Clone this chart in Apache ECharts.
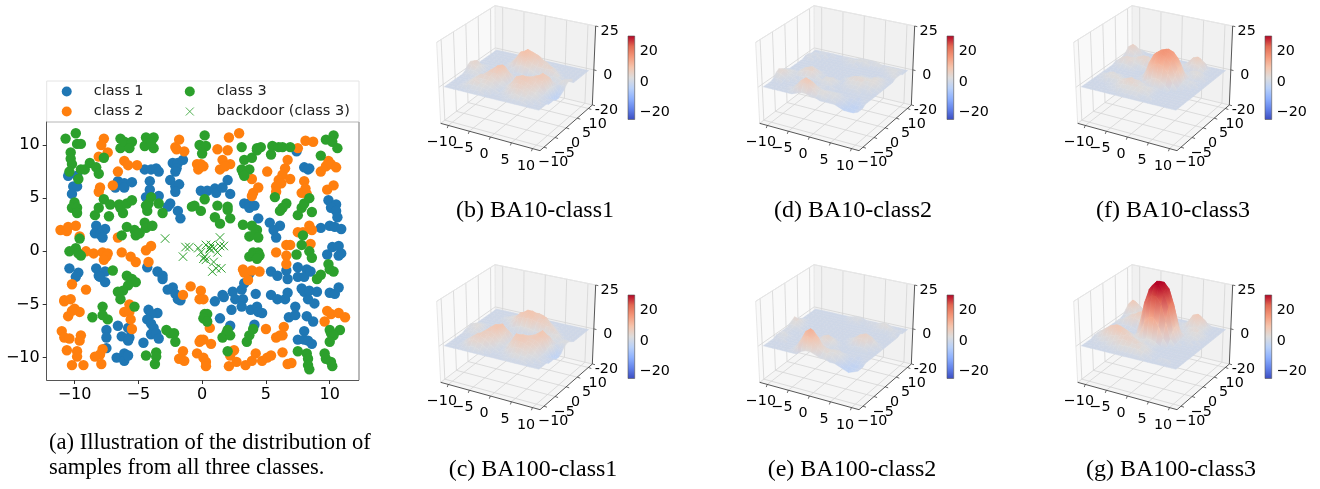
<!DOCTYPE html>
<html><head><meta charset="utf-8">
<script src="https://cdn.jsdelivr.net/npm/echarts@6/dist/echarts.min.js"></script>
<style>html,body{margin:0;padding:0;background:#fff}#c{width:1320px;height:489px}</style></head>
<body><div id="c"></div>
<script>
const class1=[[-10.5,7.1],[-9.8,7.1],[-10.1,6.1],[-9.8,6.1],[-10.2,5.4],[-8.3,2.4],[-8.4,1.7],[-7.6,2.1],[-8,1.6],[-7.8,1.3],[-6.8,6],[-6.6,6.6],[-6.1,6.4],[-6.1,6],[-5.5,6.5],[-4.5,7.7],[-4,7.7],[-3.6,7.8],[-3.4,7.5],[-4.1,6.6],[-4.1,5.8],[-4.4,5.1],[-3.4,5.2],[-2.3,8.3],[-1.9,8.3],[-1.5,8.6],[-2,7.8],[-2.1,7.5],[-2.5,6.7],[-2.1,6.1],[-1.8,6.3],[-2.1,5.6],[-2.5,4.5],[-2.7,4.2],[-1.9,3.8],[-1.7,3.1],[-0.1,5.7],[0.4,5.7],[1,5.9],[1.1,5.5],[1.6,6],[2,6.7],[2.2,5.4],[3.3,4.5],[3.7,4.5],[3.7,4.1],[4.1,4.3],[4.4,3.1],[5.3,2.7],[6.1,2.4],[5.6,2],[5.8,1.3],[7.4,9.4],[8,7.9],[8.4,7.8],[8.3,7.7],[9.9,4.8],[10.5,4.4],[10.1,4.1],[10.5,3.8],[10.6,3.2],[9.3,2.2],[10,2.4],[10.4,2.3],[10.9,2.1],[10.2,0.4],[10.7,0.5],[9.8,-0.3],[10.7,-0.4],[10.9,-0.2],[-10.4,-1.6],[-9.7,-2],[-9.9,-2.4],[-8.3,-1.6],[-7.6,-1.9],[-8.1,-2.3],[-7.6,-2.9],[-8,-2.4],[-4.3,-1.5],[-3.5,-1.9],[-3.1,-2.3],[-3.1,-2.6],[-2.3,-3.4],[-2.7,-3.6],[-2.1,-4],[-1.9,-4.5],[-1.7,-4.6],[1,-4.7],[1.6,-4.1],[1.7,-4.3],[2.4,-3.8],[2.6,-4.5],[3.1,-3.6],[3.3,-3],[3.7,-2.1],[3.2,-4.5],[3.1,-5.2],[2.3,-5.5],[3.8,-5.5],[4.3,-5.2],[4.4,-5.7],[4.7,-5.8],[4.2,-4],[5.4,-1.9],[5.9,-2.3],[6.6,-1.8],[6.7,-2.6],[5.4,-4.1],[5.9,-4.5],[6.5,-4.5],[6.7,-3.9],[7.5,-1.5],[7.5,-2.4],[8.2,-1.7],[8,-2.4],[8.5,-1.9],[7.8,-3.5],[8,-3.8],[8.3,-4.5],[8.8,-4.9],[8.4,-3.7],[9,-3.8],[7.3,-5.2],[6.8,-6.2],[7.3,-6],[8.2,-6.1],[8.7,-6.6],[10,-3.9],[10.4,-4],[10.7,-3.4],[-4.2,-5.5],[-3.5,-5.8],[-4,-5.9],[-4.3,-6.4],[-4,-6.8],[-3.8,-7.2],[-4,-7.8],[-3.6,-7.7],[-3.4,-8.2],[-4.6,-8.6],[-6.6,-7],[-5.8,-7.2],[-6.3,-8],[-5.7,-8.1],[-5.8,-8.4],[-7.5,-7.4],[-7.5,-8.1],[-7.5,-9.1],[-6.7,-10],[-6.1,-9.6],[-5.9,-9.8],[-6.1,-10.3],[-5.8,-9.8],[1.4,-6.3],[2.2,-7],[4.1,-6.9],[8,-7.5],[7.5,-8.3],[8,-8.3],[8.3,-8.4],[8.6,-8.7]];
const class2=[[-7.7,10.6],[-7.9,10],[-7.4,9.3],[-8.1,8.9],[-6.1,8.5],[-5.8,8.1],[-6.6,7.5],[-5.1,8.1],[-7,6.2],[-8,6],[-8.1,5.6],[-11.1,2],[-10.6,1.9],[-10.5,2.3],[-9.9,2.4],[-9.6,1.4],[-6.6,1.3],[-1.8,10.5],[-2.1,9.8],[-2,9.6],[-1.4,9.4],[2.1,10.7],[2.9,11.1],[1.2,9.6],[2,9.5],[1.6,8.6],[2.2,8.2],[1.4,7.7],[1.8,8],[-0.4,8.2],[-0.1,8.2],[-0.3,7.7],[0.1,8],[5.1,7.5],[3.9,6.8],[4.4,6],[4,5.5],[3.9,5.2],[6.7,8.6],[6.5,7.8],[6.3,7.2],[6,6.7],[6.2,6.4],[5.8,6.1],[5.8,5.6],[6.9,6.8],[7.5,9.7],[8.1,10.4],[8.7,10.3],[8,6.6],[8.1,5.9],[7.8,5.5],[8.2,5.4],[9.3,7.5],[9.7,8],[9.9,8.5],[10.1,8.2],[10.5,7.9],[9.8,5.8],[10.3,6.2],[8.4,2.4],[8.6,2],[7.5,1.8],[7.9,1.8],[-9.1,0],[-8.5,-0.2],[-7.8,-0.1],[-7.4,-0.2],[-7.5,-0.5],[-7.7,-0.8],[-6.3,-0.1],[-5.6,-0.5],[-5.2,-1],[-4.4,0.1],[-4,0.5],[-4.2,-1],[6.6,0.6],[6.9,0.6],[5.8,-0.1],[6.6,-0.4],[6.6,-1.2],[8.5,0.7],[3.2,-1.7],[3.3,-2],[3.9,-1.8],[4.5,-1.9],[3.6,-2.7],[-10.2,-3.1],[-9.1,-3.6],[-10.8,-4.6],[-10.3,-4.5],[-10.8,-4.7],[-10,-5.4],[-9.6,-5.7],[-10.5,-6.1],[-10.2,-5.6],[-5.7,-5],[-6.1,-5.7],[-5.7,-5.7],[-5.6,-6.4],[-5.5,-7.3],[-0.9,-3.3],[-1.5,-4.1],[-0.1,-3.7],[-0.2,-4.5],[0.1,-4.5],[0.6,-7.2],[-0.1,-8.3],[0.1,-8.3],[-0.2,-8.5],[0.7,-8.7],[-11,-7.5],[-10.8,-8.1],[-10.4,-8.2],[-9.5,-7.9],[-9.6,-8.4],[-10.6,-9.3],[-9.8,-9.4],[-9.8,-9.9],[-10.2,-10.7],[-9.3,-10.7],[-7.8,-9.2],[-8,-9.7],[-8.4,-9.9],[-7.9,-10.6],[-1.5,-9.4],[-1.8,-10.1],[-1.4,-10.3],[-0.4,-9.6],[0.1,-10],[0.3,-10.4],[0.3,-10.8],[2.5,-9.3],[2.2,-9.8],[2.7,-10.4],[2.1,-10.8],[3.4,-10.7],[3.9,-10.3],[4.2,-9.6],[4.7,-10.3],[5.1,-10],[5.4,-9.8],[6.3,-9.5],[6.7,-10.6],[7,-10.5],[5,-7.3],[5.8,-8.1],[6.1,-7.9],[6.4,-7.1],[6.3,-7.9],[9.6,-6.6],[9.8,-5.6],[10.1,-5.9],[10.7,-5.8],[11.2,-6.2]];
const class3=[[-10.7,10.6],[-9.9,11.1],[-9.8,10.1],[-9.5,10.1],[-10.3,9.3],[-10.3,8.7],[-10.2,8.2],[-10.4,7.5],[-9.5,7.7],[-9.2,7.7],[-8.8,8.3],[-8.3,7.9],[-8.1,7.3],[-9.7,6.8],[-10,4.6],[-10.2,4.1],[-9.8,4.1],[-9.8,3.6],[-8.4,3.4],[-8.1,4.1],[-7.7,4.9],[-7.2,4.4],[-7.3,3.3],[-6.5,4.4],[-6.4,4.1],[-6.2,3.6],[-5.9,4.5],[-5.5,4.8],[-5.9,2.3],[-6.3,1.5],[-5.3,2],[-5.2,1.5],[-4.9,1.7],[-4.5,2.7],[-4.4,2.2],[-3.9,2.4],[-9.6,1.2],[-7.7,8.8],[-6.4,10.6],[-6.4,9.7],[-6.1,10.3],[-5.5,10.3],[-5.7,9.7],[-4.4,10.7],[-3.8,10.7],[-4.5,9.9],[-3.8,9.7],[-4,10.2],[-4,5.1],[-4.2,4.5],[-4.3,3.8],[-4.4,4.3],[-3.4,4.5],[-3.1,3.6],[-0.8,4.2],[-0.6,4.3],[-0.1,3.8],[0.2,4.9],[1.2,4.3],[2,4.2],[2,3.9],[2.2,3.1],[1,3.2],[1.4,2.6],[0.2,10.9],[-0.2,10],[0.3,9.9],[0,9.2],[3.1,9.8],[3.3,8.6],[3.9,8.8],[4.3,9.7],[4.6,9.8],[4.3,9.5],[5.4,9.1],[5.5,9.9],[6,9.8],[6.3,9.8],[6.9,9.8],[3.1,7.7],[3.2,7.4],[3.7,7.7],[3.3,7.1],[5.7,5.1],[6.6,4.5],[6.3,4.1],[6.1,3.8],[7.5,3.4],[7.8,4.1],[8,4.5],[8.4,5],[8.6,3.7],[3.2,2.5],[3.9,2.4],[4.3,2],[3.7,1.4],[4.1,1.6],[4.4,1.3],[7.9,1.5],[9.3,9],[9.7,10.5],[10.3,10.9],[10.2,10.3],[10.6,9.7],[-10.4,0],[-9.9,0.3],[-9.7,-0.2],[-9.5,-0.4],[-7,-1.8],[-5.9,-2.3],[-5.5,-2.6],[-5.2,-2.9],[-5.8,-3.2],[-6.2,-3.7],[-6.6,-3.8],[-6.4,-4.5],[-5.3,-5.2],[-7.8,-5.2],[-8.6,-6.2],[-7.8,-6],[-7.4,-6.4],[-2.8,-7.4],[-2.5,-7.7],[-2.2,-7.7],[-2.1,-8.5],[-4.4,-9.8],[-3.6,-9.5],[-3.6,-9.9],[-3.7,-10.6],[0.2,-5.9],[0.4,-5.9],[0.1,-6.3],[0.4,-6.6],[1.6,-8.1],[1.9,-7.7],[2.2,-7.9],[2,-7.4],[2,-9.4],[3.5,-8.5],[3.7,-7.9],[4,-7.3],[7.5,-9.4],[8.2,-9.6],[8.3,-10.1],[8.3,-10.7],[8.4,-11.1],[9,-2.6],[9.3,-2.2],[9.6,-9.6],[9.7,-10.1],[10.1,-10.4],[10.2,-10.8],[10,-7.4],[10.1,-7.7],[10.8,-7.4],[10.3,-7.9],[10,-8.5],[9.9,-1.2],[10,-1.7],[10.3,-1.9],[3.7,-0.5],[4,-0.1],[4.4,-0.1],[4.5,-0.4],[4.3,-0.7],[7.4,-0.3],[8.4,0],[8.6,-0.6],[7.8,0.6]];
const backdoor=[[-2.9,1.2],[-1.5,-0.5],[-1.3,0.4],[-1,0.4],[-0.3,0.3],[-0.1,-0.1],[0.1,-0.7],[0.3,-0.8],[0.7,0.6],[0.6,0.3],[0.9,0.3],[1.4,0.5],[1.7,0.5],[1.2,-0.1],[0.9,-1],[0.8,-1.9],[1.1,-1.6],[1.5,-1.6],[0.2,-0.5],[1.4,1.3],[0.3,0.6],[0.6,0.2]];
const scatterTicks=[-10,-5,0,5,10];

const ba10class1=[
[0,0,0,0,0,0,0,0,0,0,0,0,0,0,0,0,0,0,0,0,0],
[0,0,0,0,0,1,1,1,0,0,0,0,0,1,1,1,1,0,0,0,0],
[0,0,0,1,2,2,2,2,1,0,0,0,1,2,3,2,2,1,0,0,0],
[0,0,0,1,3,4,3,3,2,1,0,1,3,4,5,4,3,2,1,0,0],
[0,0,0,1,3,4,4,4,3,1,0,2,4,6,6,5,4,3,1,0,-1],
[0,0,0,1,3,5,5,5,4,2,1,3,6,7,7,6,5,3,1,0,-1],
[0,0,0,1,2,4,6,6,6,3,1,3,7,8,8,7,6,4,1,-1,-1],
[0,1,1,1,2,3,6,8,8,5,1,2,6,7,7,7,7,6,2,-2,-2],
[1,2,2,1,1,2,5,8,9,6,1,1,3,5,6,7,8,7,2,-3,-2],
[3,4,3,1,0,1,3,6,7,4,1,0,1,3,5,6,8,7,2,-3,-1],
[4,5,3,1,0,0,1,3,3,2,0,0,0,1,3,4,6,5,1,-2,0],
[3,4,2,0,0,0,0,1,1,0,0,0,0,0,1,2,3,2,1,1,2],
[1,1,1,0,0,0,0,0,0,1,1,0,0,0,0,1,1,1,1,3,3],
[0,0,0,0,0,0,0,1,3,4,4,3,2,1,1,1,2,2,1,2,3],
[0,0,0,0,0,0,1,4,7,8,7,5,4,4,4,4,3,2,0,0,0],
[0,0,0,0,0,0,2,5,9,10,9,7,6,5,5,4,2,0,0,0,0],
[0,0,0,0,0,0,1,4,8,10,9,8,6,5,3,2,0,0,0,0,0],
[0,0,0,0,0,0,0,2,5,7,7,6,4,3,1,0,0,0,0,0,0],
[0,0,0,0,0,0,0,1,3,3,3,2,1,0,0,0,0,0,0,0,0],
[0,0,0,0,0,0,0,0,0,0,0,0,0,0,0,0,0,0,0,0,0],
[0,0,0,0,0,0,0,0,0,0,0,0,0,0,0,0,0,0,0,0,0]];
const ba100class1=[
[0,0,0,0,0,0,0,0,0,0,0,0,0,0,0,0,0,0,0,0,0],
[0,0,0,0,1,2,2,1,0,0,0,0,0,1,1,1,1,0,0,0,0],
[0,0,0,1,3,5,4,3,1,0,0,0,1,2,3,2,2,1,0,0,0],
[0,0,0,2,4,6,6,5,3,1,0,1,3,4,5,4,3,2,1,0,0],
[0,0,0,2,4,6,7,6,5,2,0,2,5,7,7,6,5,3,1,0,-1],
[0,0,0,1,3,5,7,7,6,3,1,3,7,8,8,7,6,4,1,0,-1],
[0,0,0,1,3,5,7,8,8,4,1,3,8,8,8,7,7,5,1,-1,-1],
[0,1,1,1,2,4,7,9,9,5,1,2,6,7,7,8,8,7,2,-2,-2],
[1,1,2,1,1,3,6,8,9,6,1,1,3,5,6,7,9,8,3,-3,-2],
[1,2,3,1,0,1,3,6,6,4,1,0,1,3,5,7,9,7,2,-3,-1],
[2,3,3,1,0,0,1,3,2,1,0,0,0,1,3,4,6,5,1,-1,1],
[1,2,2,0,0,0,0,1,1,0,0,0,0,0,1,2,3,2,1,2,2],
[0,1,1,0,0,0,0,0,0,0,1,0,0,0,1,1,2,2,1,2,2],
[0,0,0,0,0,0,0,1,2,3,3,3,2,2,2,2,3,3,1,1,1],
[0,0,0,0,0,0,1,3,6,7,7,7,6,6,5,5,4,2,0,0,0],
[0,0,0,0,0,1,2,5,8,9,9,8,7,7,6,4,2,0,0,0,0],
[0,0,0,0,1,2,3,5,7,9,9,8,8,7,4,2,0,0,0,0,0],
[0,0,0,0,1,2,3,4,5,7,7,7,6,4,2,0,0,0,0,0,0],
[0,0,0,0,0,1,2,2,3,3,4,3,2,1,0,0,0,0,0,0,0],
[0,0,0,0,0,0,0,1,1,1,1,0,0,0,0,0,0,0,0,0,0],
[0,0,0,0,0,0,0,0,0,0,0,0,0,0,0,0,0,0,0,0,0]];
const ba10class2=[
[0,0,0,0,0,0,0,1,2,2,1,1,0,0,0,0,-1,-2,-2,-2,-1],
[0,0,0,0,0,0,2,4,6,6,4,2,2,1,1,0,-1,-3,-3,-2,-1],
[0,0,0,0,0,1,3,6,8,7,4,3,3,2,2,1,0,-2,-3,-2,-1],
[0,0,0,0,0,0,2,4,6,5,3,2,2,2,2,1,0,-1,-2,-1,0],
[1,1,0,0,0,0,1,2,3,2,1,1,1,1,1,0,0,0,-1,0,0],
[3,3,1,0,0,0,0,0,1,1,1,0,0,0,0,0,0,0,0,0,0],
[4,4,2,1,0,1,1,0,0,1,1,1,0,0,0,0,0,0,0,0,0],
[3,3,2,1,1,2,2,1,1,2,2,1,0,0,1,1,1,0,0,0,0],
[2,2,2,2,3,4,4,2,1,3,3,2,0,1,2,2,2,1,1,0,0],
[1,1,1,2,4,5,4,2,0,1,2,1,0,2,3,3,3,2,2,1,0],
[0,0,0,1,3,4,3,1,0,0,0,0,1,3,4,4,3,3,3,2,0],
[0,0,0,0,1,2,1,0,0,0,0,0,1,2,3,3,3,3,3,2,0],
[0,0,0,0,0,0,0,0,0,0,0,0,0,1,2,2,2,3,3,1,0],
[0,0,0,0,0,0,0,0,0,0,0,0,0,0,1,1,1,2,2,1,0],
[0,0,0,0,0,0,0,0,0,0,0,0,0,0,0,0,0,1,1,0,0],
[0,0,0,0,0,0,0,0,0,0,0,0,0,0,0,0,0,0,0,1,1],
[1,1,0,0,0,0,0,0,0,0,0,0,0,0,0,0,0,0,1,2,1],
[1,1,1,0,0,0,0,0,0,1,1,0,0,0,0,0,0,1,2,2,1],
[0,1,1,1,0,0,0,0,1,2,2,2,2,1,1,1,1,2,2,2,0],
[0,0,1,1,1,0,0,1,1,1,2,2,2,2,2,1,1,1,1,1,0],
[0,0,0,0,0,0,0,0,0,0,1,1,1,1,0,0,0,0,0,0,0]];
const ba100class2=[
[0,0,0,0,0,0,0,0,2,3,3,2,1,1,0,0,-1,-2,-3,-2,-1],
[0,0,0,0,0,0,1,4,8,10,8,5,3,3,2,0,-1,-3,-3,-2,-1],
[0,0,0,0,0,0,2,6,11,13,10,6,4,3,3,2,0,-2,-3,-2,-1],
[0,0,0,0,0,0,1,5,9,11,8,4,3,3,3,2,0,-1,-2,-1,0],
[0,1,1,0,0,0,0,2,4,5,4,1,1,2,2,1,0,0,-1,0,0],
[1,1,1,0,0,0,0,0,1,2,2,1,0,0,0,0,0,0,0,0,0],
[1,2,1,0,0,0,0,0,1,3,4,2,1,0,0,0,0,0,0,0,0],
[1,1,0,0,0,0,0,0,2,4,5,3,1,0,0,0,0,0,0,0,0],
[1,1,0,0,0,0,0,0,1,2,3,2,0,0,0,1,1,1,0,0,0],
[1,1,0,0,0,0,0,0,0,0,1,0,0,0,2,4,5,3,1,0,0],
[2,2,1,0,0,0,0,0,0,0,0,0,0,1,3,5,6,5,3,1,0],
[3,3,1,0,0,0,0,0,0,0,0,0,0,1,2,4,5,4,2,0,0],
[4,3,1,0,0,0,0,0,0,0,0,0,0,0,1,2,2,1,0,0,0],
[2,2,0,0,0,0,0,0,0,0,0,0,0,0,0,0,0,0,0,0,0],
[1,1,0,0,0,0,0,0,0,0,0,0,0,0,0,0,0,0,0,0,0],
[0,0,0,0,0,0,0,0,0,0,0,0,0,0,0,0,0,0,0,0,0],
[0,0,0,0,0,0,0,0,0,0,0,0,0,0,0,0,0,0,0,1,0],
[0,0,0,0,0,0,0,0,0,0,0,0,0,0,0,1,1,1,1,1,1],
[0,0,0,0,0,0,0,0,0,1,1,0,0,1,1,2,3,2,1,1,0],
[0,0,0,0,0,0,0,0,1,2,2,1,1,1,1,2,2,1,0,0,0],
[0,0,0,0,0,0,0,0,0,1,1,0,0,0,0,0,0,0,0,0,0]];
const ba10class3=[
[0,0,0,0,0,0,0,0,0,0,0,0,0,0,0,0,0,0,0,0,0],
[0,0,0,0,0,0,0,0,1,1,1,1,0,0,0,0,0,0,0,0,0],
[0,0,0,0,0,0,1,2,2,2,2,2,1,1,0,0,0,0,0,0,0],
[0,0,0,0,0,1,2,3,3,3,3,3,2,1,0,0,0,0,0,0,0],
[0,0,0,0,1,1,3,4,5,4,3,3,3,1,0,0,0,0,0,0,0],
[0,0,1,2,2,2,3,4,5,4,3,2,2,1,0,0,0,0,0,0,0],
[0,1,2,3,3,2,2,3,3,3,2,1,1,1,0,0,0,0,0,0,0],
[0,1,2,3,2,1,1,1,1,1,2,4,5,4,2,0,0,0,0,0,0],
[0,0,1,1,1,0,0,0,0,3,8,11,12,11,8,3,0,0,0,0,0],
[0,0,0,0,0,0,0,0,1,6,12,15,16,15,12,6,1,0,0,0,0],
[0,0,0,0,0,0,0,0,2,9,14,16,17,16,14,9,2,1,0,0,0],
[0,0,0,0,0,0,0,0,2,9,14,16,17,16,14,9,2,2,1,0,0],
[0,1,2,2,1,0,0,0,1,6,12,15,16,15,12,6,1,1,1,0,0],
[1,3,4,4,3,2,2,1,0,3,8,11,12,11,8,3,1,1,0,0,0],
[0,3,4,4,4,4,5,3,1,1,2,4,5,4,2,1,2,3,1,0,0],
[0,1,2,3,4,5,5,3,1,0,0,1,1,1,1,2,3,3,1,0,0],
[1,1,1,1,2,3,3,1,0,0,0,0,0,0,0,1,1,1,0,0,0],
[2,4,2,1,0,0,1,1,1,1,1,1,1,1,3,4,3,1,0,0,0],
[4,6,4,1,0,0,0,0,0,1,2,1,1,3,6,7,5,1,0,0,0],
[2,4,2,0,0,0,0,0,0,0,1,0,0,2,4,5,3,0,0,0,0],
[0,1,1,0,0,0,0,0,0,0,0,0,0,1,2,1,0,0,0,0,0]];
const ba100class3=[
[0,0,0,0,0,0,0,0,0,0,0,0,0,0,0,0,0,0,0,0,0],
[0,0,0,0,0,0,0,1,1,1,1,1,1,0,0,0,0,0,0,0,0],
[0,0,0,0,1,1,2,3,3,3,3,3,2,1,0,0,1,1,0,0,0],
[0,0,1,1,2,3,4,5,5,4,4,3,3,1,0,0,0,0,0,0,0],
[0,1,2,3,4,5,5,6,6,5,4,3,2,1,0,0,0,0,0,0,0],
[1,2,4,6,7,8,7,6,5,4,3,2,1,0,0,0,0,0,0,0,0],
[1,3,5,7,8,8,7,5,3,2,2,1,1,0,0,0,0,0,0,0,0],
[1,2,4,6,7,6,5,3,2,2,3,3,2,0,0,0,0,0,0,0,0],
[0,1,2,3,4,4,3,2,4,10,14,14,10,4,0,0,0,0,0,0,0],
[0,0,0,1,1,1,1,3,12,21,25,25,21,12,3,0,0,0,0,0,0],
[0,0,0,0,0,0,0,7,19,27,30,30,27,19,7,1,0,0,0,0,0],
[0,0,0,0,0,0,0,8,21,28,31,31,28,21,8,1,1,1,0,0,0],
[0,0,1,1,1,0,0,7,19,27,30,30,27,19,7,1,1,1,1,0,0],
[0,2,3,4,5,4,3,3,12,21,25,25,21,12,3,1,2,2,1,0,0],
[0,1,3,5,6,7,7,6,4,10,14,14,10,4,1,2,3,3,2,0,0],
[0,1,2,4,6,7,7,6,4,3,3,3,2,1,1,3,4,3,1,0,0],
[1,2,3,3,4,5,5,4,3,2,2,1,1,1,2,3,3,2,0,0,0],
[3,5,3,2,2,2,2,1,1,1,1,1,1,2,5,6,4,2,0,0,0],
[5,8,5,2,1,1,0,0,0,0,0,1,1,3,7,8,6,2,0,0,0],
[3,6,4,1,0,0,0,0,0,0,0,0,0,2,5,6,4,1,0,0,0],
[0,2,1,0,0,0,0,0,0,0,0,0,0,1,2,2,1,0,0,0,0]];

const panelTables=[ba10class1,ba100class1,ba10class2,ba100class2,ba10class3,ba100class3];
const panelOrigins=[[420,0],[420,259],[739,0],[739,259],[1057,0],[1057,259]];
const captions=[["(b) BA10-class1",535,211],["(c) BA100-class1",533,470],["(d) BA10-class2",853,211],["(e) BA100-class2",852,470],["(f) BA10-class3",1173,211],["(g) BA100-class3",1171,470]];
const axisTicks3d=[-10,-5,0,5,10];
const zTicks3d=[-20,0,25];
const colorbarTicks=[-20,0,20];
const colorRange=[-24.6,30];
const coolwarm=['#3b4cc0','#6282ea','#8db0fe','#b8d0f9','#dddcdc','#f5c4ac','#f4987a','#e26952','#b40426'];

const FONT='"DejaVu Sans"';
const LIM=11.8, SURF=11;
const C={A:[62,370],B:[360,452],C:[517,315],D:[226,245],E:[50,127],F:[364,195],G:[527,78],H:[225,17]};
function lerp(a,b,t){return [a[0]+(b[0]-a[0])*t,a[1]+(b[1]-a[1])*t];}
function project(x,y,z){
  const u=(x+LIM)/(2*LIM),v=(y+LIM)/(2*LIM),w=(z+20)/45;
  const bot=lerp(lerp(C.A,C.B,u),lerp(C.D,C.C,u),v);
  const top=lerp(lerp(C.E,C.F,u),lerp(C.H,C.G,u),v);
  return lerp(bot,top,w);
}
function hex(s){return [1,3,5].map(i=>parseInt(s.substr(i,2),16));}
function cmap(z){
  let t=(z-colorRange[0])/(colorRange[1]-colorRange[0]);t=Math.max(0,Math.min(1,t));
  const p=t*(coolwarm.length-1),i=Math.min(coolwarm.length-2,Math.floor(p)),f=p-i;
  const a=hex(coolwarm[i]),b=hex(coolwarm[i+1]);
  return 'rgb('+a.map((c,k)=>Math.round(c+(b[k]-c)*f)).join(',')+')';
}
const minus=v=>String(v).replace('-','\u2212');

const grids=[{left:46.7,top:122,width:312,height:258}];
const xAxes=[{type:'value',gridIndex:0,min:-12.18,max:12.27,splitLine:{show:false},
  axisLine:{onZero:false,lineStyle:{color:'#555',width:1}},
  axisTick:{length:4,lineStyle:{color:'#333'},customValues:scatterTicks},
  axisLabel:{customValues:scatterTicks,formatter:minus,fontFamily:FONT,fontSize:16,color:'#000',margin:7}}];
const yAxes=[{type:'value',gridIndex:0,min:-12.1,max:12.16,splitLine:{show:false},
  axisLine:{show:true,onZero:false,lineStyle:{color:'#555',width:1}},
  axisTick:{show:true,length:4,lineStyle:{color:'#333'},customValues:scatterTicks},
  axisLabel:{customValues:scatterTicks,formatter:minus,fontFamily:FONT,fontSize:16,color:'#000',margin:7}}];
const dot=(name,data,color)=>({name,type:'scatter',data,symbolSize:10.4,xAxisIndex:0,yAxisIndex:0,silent:true,itemStyle:{color,opacity:1}});
const series=[
 dot('class 1',class1,'#1f77b4'),
 dot('class 2',class2,'#ff7f0e'),
 dot('class 3',class3,'#2ca02c'),
 {name:'backdoor (class 3)',type:'scatter',data:backdoor,symbol:'path://M0,0L10,10M10,0L0,10',symbolSize:8.5,silent:true,
  itemStyle:{color:'none',borderColor:'#2ca02c',borderWidth:1,opacity:1}}
];

panelOrigins.forEach((o,idx)=>{
  const g=grids.length;
  grids.push({left:o[0],top:o[1],width:240,height:190});
  xAxes.push({type:'value',gridIndex:g,min:0,max:720,show:false});
  yAxes.push({type:'value',gridIndex:g,min:0,max:570,inverse:true,show:false});
  const table=panelTables[idx];
  series.push({type:'custom',coordinateSystem:'cartesian2d',xAxisIndex:g,yAxisIndex:g,silent:true,clip:false,z:2,data:[[0,0]],
    renderItem:(p,api)=>{
      const pt=a=>api.coord(a), P=(x,y,z)=>pt(project(x,y,z));
      const ch=[];
      const poly=(pts,fill)=>ch.push({type:'polygon',shape:{points:pts.map(pt)},style:{fill,stroke:'none'}});
      const ln=(a,b,col,w)=>ch.push({type:'line',shape:{x1:a[0],y1:a[1],x2:b[0],y2:b[1]},style:{stroke:col,lineWidth:w}});
      poly([C.A,C.D,C.H,C.E],'#f9f9f9');
      poly([C.D,C.C,C.G,C.H],'#f1f1f1');
      poly([C.A,C.B,C.C,C.D],'#f5f5f5');
      const gc='#d4d4d4';
      axisTicks3d.forEach(t=>{
        ln(P(t,-LIM,-20),P(t,LIM,-20),gc,0.8);ln(P(t,LIM,-20),P(t,LIM,25),gc,0.8);
        ln(P(-LIM,t,-20),P(LIM,t,-20),gc,0.8);ln(P(-LIM,t,-20),P(-LIM,t,25),gc,0.8);
      });
      zTicks3d.forEach(z=>{
        ln(P(-LIM,-LIM,z),P(-LIM,LIM,z),gc,0.8);ln(P(-LIM,LIM,z),P(LIM,LIM,z),gc,0.8);
      });
      ln(pt(C.A),pt(C.E),'#e2e2e2',0.8);ln(pt(C.D),pt(C.H),'#e2e2e2',0.8);ln(pt(C.E),pt(C.H),'#e8e8e8',0.8);ln(pt(C.H),pt(C.G),'#e8e8e8',0.8);
      ln(pt(C.A),pt(C.B),'#444',0.9);ln(pt(C.B),pt(C.C),'#444',0.9);ln(pt(C.C),pt(C.G),'#444',0.9);
      const tick=(a,off)=>ln(pt(a),pt([a[0]+off[0],a[1]+off[1]]),'#444',0.8);
      const label=(txt,a,off)=>{const q=pt([a[0]+off[0],a[1]+off[1]]);
        ch.push({type:'text',x:q[0],y:q[1],style:{text:txt,fontFamily:FONT,fontSize:14.3,fill:'#000',align:'center',verticalAlign:'middle'}});};
      axisTicks3d.forEach(t=>{
        const a=project(t,-LIM,-20),b=project(LIM,t,-20);
        tick(a,[-3,8]);tick(b,[9,3]);
        label(minus(t),a,[-19,52]);
        label(minus(t),b,[28,46]);
      });
      zTicks3d.forEach(z=>{const a=project(LIM,LIM,z);tick(a,[8,2]);label(String(z),a,[42,15]);});
      return {type:'group',children:ch};
    }});
  const cells=[];
  for(let r=table.length-2;r>=0;r--) for(let c=0;c<table[0].length-1;c++) cells.push([c,r]);
  const n=table[0].length-1, gx=i=>-SURF+2*SURF*i/n, gy=i=>-SURF+2*SURF*i/(table.length-1);
  series.push({type:'custom',coordinateSystem:'cartesian2d',xAxisIndex:g,yAxisIndex:g,silent:true,clip:false,z:3,data:cells,
    renderItem:(p,api)=>{
      const c=api.value(0),r=api.value(1);
      const zs=[table[r][c],table[r][c+1],table[r+1][c+1],table[r+1][c]];
      const xy=[[c,r],[c+1,r],[c+1,r+1],[c,r+1]];
      const pts=xy.map((q,i)=>api.coord(project(gx(q[0]),gy(q[1]),zs[i])));
      let lo=0,hi=0;zs.forEach((z,i)=>{if(z<zs[lo])lo=i;if(z>zs[hi])hi=i;});
      const fill=zs[lo]===zs[hi]?cmap(zs[lo]):new echarts.graphic.LinearGradient(pts[lo][0],pts[lo][1],pts[hi][0],pts[hi][1],
        [{offset:0,color:cmap(zs[lo])},{offset:1,color:cmap(zs[hi])}],true);
      return {type:'polygon',shape:{points:pts},style:{fill,stroke:fill,lineWidth:0.4}};
    }});
  const cg=grids.length;
  grids.push({left:o[0]+208,top:o[1]+36,width:6.7,height:83.5});
  xAxes.push({type:'value',gridIndex:cg,min:0,max:1,show:false});
  yAxes.push({type:'value',gridIndex:cg,min:colorRange[0],max:colorRange[1],position:'right',splitLine:{show:false},
    axisLine:{show:false},axisTick:{show:true,length:3,lineStyle:{color:'#333',width:0.8},customValues:colorbarTicks},
    axisLabel:{customValues:colorbarTicks,formatter:minus,fontFamily:FONT,fontSize:14.3,color:'#000',margin:5}});
  series.push({type:'custom',coordinateSystem:'cartesian2d',xAxisIndex:cg,yAxisIndex:cg,silent:true,data:[[0,colorRange[1]]],
    renderItem:(p,api)=>{
      const a=api.coord([0,colorRange[1]]),b=api.coord([1,colorRange[0]]);
      return {type:'rect',shape:{x:a[0],y:a[1],width:b[0]-a[0],height:b[1]-a[1]},
        style:{stroke:'#555',lineWidth:0.6,fill:new echarts.graphic.LinearGradient(0,1,0,0,coolwarm.map((c,i)=>({offset:i/(coolwarm.length-1),color:c})))}};
    }});
});

const serif='"Liberation Serif"';
const graphicEls=[
 {type:'rect',shape:{x:46.7,y:81,width:312.3,height:41},style:{fill:'#fff',stroke:'#e4e4e4',lineWidth:1},z:0,silent:true},
 {type:'line',shape:{x1:46.7,y1:122,x2:359,y2:122},style:{stroke:'#c4c4c4',lineWidth:1},silent:true},
 {type:'line',shape:{x1:359,y1:122,x2:359,y2:380},style:{stroke:'#a8a8a8',lineWidth:1.6},silent:true},
 {type:'text',x:49,y:443,style:{text:'(a) Illustration of the distribution of',font:'22.6px '+serif,fill:'#000',verticalAlign:'middle'},silent:true},
 {type:'text',x:49,y:468,style:{text:'samples from all three classes.',font:'22.6px '+serif,fill:'#000',verticalAlign:'middle'},silent:true}
].concat(captions.map(c=>({type:'text',x:c[1],y:c[2],style:{text:c[0],font:'24px '+serif,fill:'#000',align:'center',verticalAlign:'middle'},silent:true})));

const legendBase={orient:'vertical',padding:0,itemWidth:10,itemHeight:10,itemGap:5,selectedMode:false,
  textStyle:{fontFamily:FONT,fontSize:14.5,color:'#222',padding:[0,0,0,17]}};
const chart=echarts.init(document.getElementById('c'),null,{renderer:'canvas'});
chart.setOption({animation:false,backgroundColor:'#fff',grid:grids,xAxis:xAxes,yAxis:yAxes,series,graphic:{elements:graphicEls},
  legend:[{...legendBase,left:61.7,top:84,data:['class 1','class 2']},
          {...legendBase,left:182.3,top:84,data:['class 3',{name:'backdoor (class 3)',icon:'path://M1,1L9,9M9,1L1,9M0,0L0,0M10,10L10,10',itemStyle:{borderWidth:0.8}}]}]});
</script></body></html>
